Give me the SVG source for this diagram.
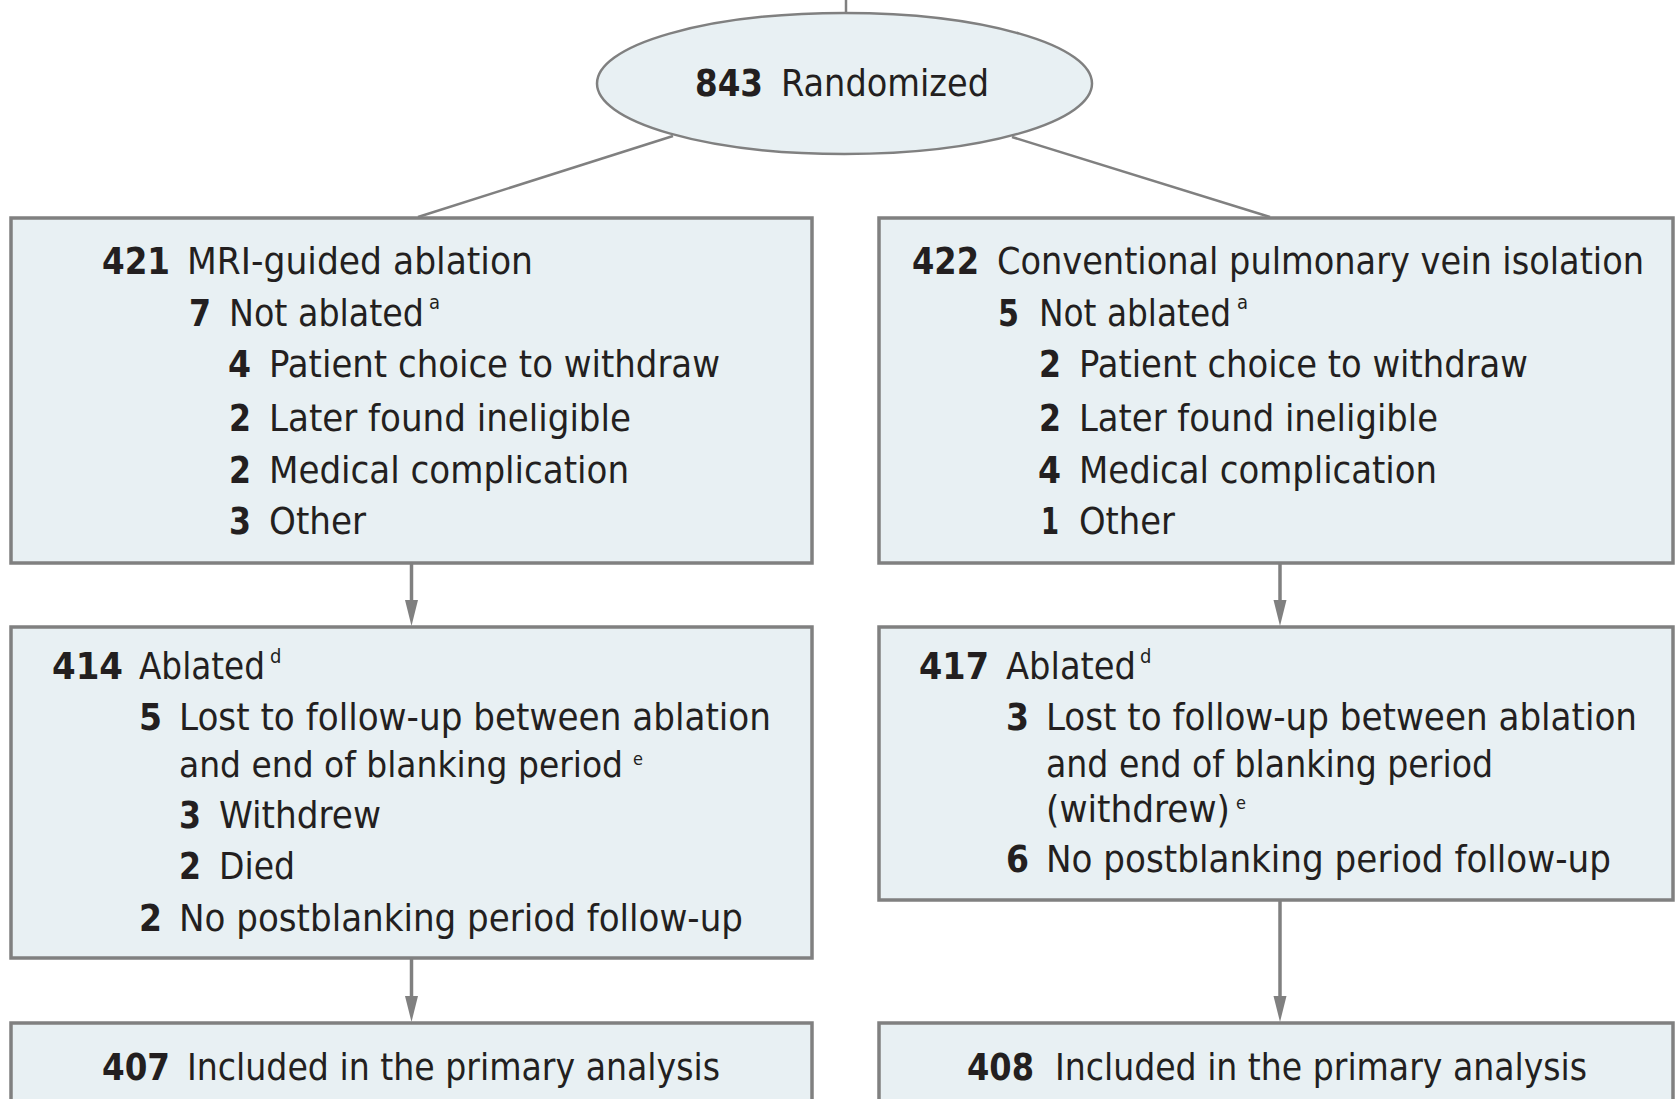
<svg xmlns="http://www.w3.org/2000/svg" width="1675" height="1099" viewBox="0 0 1675 1099">
<defs>
<style>
.box{fill:#e8f0f3;stroke:#808080;stroke-width:3.5}
.t{font-family:"Liberation Sans Narrow","DejaVu Sans Condensed","Liberation Sans",sans-serif;font-size:38px;fill:#231f20}
.n{font-weight:bold}
.s{font-size:20px}
.ss{font-size:18px}
.ln{stroke:#808080;stroke-width:2.5;fill:none}
.cn{stroke:#808080;stroke-width:3.5;fill:none}
.hd{fill:#808080}
</style>
</defs>
<g id="connectors">
<line class="ln" x1="846" y1="0" x2="846" y2="13"/>
<line class="ln" x1="673" y1="136" x2="418" y2="217"/>
<line class="ln" x1="1012" y1="137" x2="1270" y2="217"/>
<line class="cn" x1="411.5" y1="563" x2="411.5" y2="604"/>
<path class="hd" d="M405,600 L418,600 L411.5,626 Z"/>
<line class="cn" x1="411.5" y1="959" x2="411.5" y2="1000"/>
<path class="hd" d="M405,996 L418,996 L411.5,1022 Z"/>
<line class="cn" x1="1280" y1="563" x2="1280" y2="604"/>
<path class="hd" d="M1273.5,600 L1286.5,600 L1280,626 Z"/>
<line class="cn" x1="1280" y1="900" x2="1280" y2="1000"/>
<path class="hd" d="M1273.5,996 L1286.5,996 L1280,1022 Z"/>
</g>
<g id="randomized">
<ellipse cx="844.5" cy="83.5" rx="247.5" ry="70.5" fill="#e8f0f3" stroke="#808080" stroke-width="2.5"/>
<text class="t n" x="695" y="96" textLength="68" lengthAdjust="spacingAndGlyphs">843</text>
<text class="t" x="781" y="96" textLength="208" lengthAdjust="spacingAndGlyphs">Randomized</text>
</g>
<g id="mri-arm">
<rect class="box" x="11" y="218" width="801" height="345"/>
<text class="t n" x="102" y="274" textLength="68" lengthAdjust="spacingAndGlyphs">421</text>
<text class="t" x="187" y="274" textLength="346" lengthAdjust="spacingAndGlyphs">MRI-guided ablation</text>
<text class="t n" x="189" y="326" textLength="22" lengthAdjust="spacingAndGlyphs">7</text>
<text class="t" x="229" y="326"><tspan textLength="195" lengthAdjust="spacingAndGlyphs">Not ablated</tspan><tspan class="s" x="429" y="309">a</tspan></text>
<text class="t n" x="228" y="377" textLength="23" lengthAdjust="spacingAndGlyphs">4</text>
<text class="t" x="269" y="377" textLength="451" lengthAdjust="spacingAndGlyphs">Patient choice to withdraw</text>
<text class="t n" x="229" y="431" textLength="22" lengthAdjust="spacingAndGlyphs">2</text>
<text class="t" x="269" y="431" textLength="362" lengthAdjust="spacingAndGlyphs">Later found ineligible</text>
<text class="t n" x="229" y="483" textLength="22" lengthAdjust="spacingAndGlyphs">2</text>
<text class="t" x="269" y="483" textLength="360" lengthAdjust="spacingAndGlyphs">Medical complication</text>
<text class="t n" x="229" y="534" textLength="22" lengthAdjust="spacingAndGlyphs">3</text>
<text class="t" x="269" y="534" textLength="97" lengthAdjust="spacingAndGlyphs">Other</text>
</g>
<g id="pvi-arm">
<rect class="box" x="879" y="218" width="794" height="345"/>
<text class="t n" x="912" y="274" textLength="67" lengthAdjust="spacingAndGlyphs">422</text>
<text class="t" x="997" y="274" textLength="647" lengthAdjust="spacingAndGlyphs">Conventional pulmonary vein isolation</text>
<text class="t n" x="998" y="326" textLength="21" lengthAdjust="spacingAndGlyphs">5</text>
<text class="t" x="1039" y="326"><tspan textLength="192" lengthAdjust="spacingAndGlyphs">Not ablated</tspan><tspan class="s" x="1237" y="309">a</tspan></text>
<text class="t n" x="1039" y="377" textLength="22" lengthAdjust="spacingAndGlyphs">2</text>
<text class="t" x="1079" y="377" textLength="449" lengthAdjust="spacingAndGlyphs">Patient choice to withdraw</text>
<text class="t n" x="1039" y="431" textLength="22" lengthAdjust="spacingAndGlyphs">2</text>
<text class="t" x="1079" y="431" textLength="359" lengthAdjust="spacingAndGlyphs">Later found ineligible</text>
<text class="t n" x="1038" y="483" textLength="23" lengthAdjust="spacingAndGlyphs">4</text>
<text class="t" x="1079" y="483" textLength="358" lengthAdjust="spacingAndGlyphs">Medical complication</text>
<text class="t n" x="1041" y="534" textLength="18" lengthAdjust="spacingAndGlyphs">1</text>
<text class="t" x="1079" y="534" textLength="96" lengthAdjust="spacingAndGlyphs">Other</text>
</g>
<g id="mri-ablated">
<rect class="box" x="11" y="627" width="801" height="331"/>
<text class="t n" x="52" y="679" textLength="71" lengthAdjust="spacingAndGlyphs">414</text>
<text class="t" x="139" y="679"><tspan textLength="126" lengthAdjust="spacingAndGlyphs">Ablated</tspan><tspan class="s" x="270" y="663">d</tspan></text>
<text class="t n" x="139" y="730" textLength="23" lengthAdjust="spacingAndGlyphs">5</text>
<text class="t" x="179" y="730" textLength="592" lengthAdjust="spacingAndGlyphs">Lost to follow-up between ablation</text>
<text class="t" x="179" y="777" style="font-size:36px"><tspan textLength="444" lengthAdjust="spacingAndGlyphs">and end of blanking period</tspan><tspan class="ss" x="633" y="765">e</tspan></text>
<text class="t n" x="179" y="828" textLength="22" lengthAdjust="spacingAndGlyphs">3</text>
<text class="t" x="219" y="828" textLength="162" lengthAdjust="spacingAndGlyphs">Withdrew</text>
<text class="t n" x="179" y="879" textLength="22" lengthAdjust="spacingAndGlyphs">2</text>
<text class="t" x="219" y="879" textLength="76" lengthAdjust="spacingAndGlyphs">Died</text>
<text class="t n" x="139" y="931" textLength="23" lengthAdjust="spacingAndGlyphs">2</text>
<text class="t" x="179" y="931" textLength="564" lengthAdjust="spacingAndGlyphs">No postblanking period follow-up</text>
</g>
<g id="pvi-ablated">
<rect class="box" x="879" y="627" width="794" height="273"/>
<text class="t n" x="919" y="679" textLength="70" lengthAdjust="spacingAndGlyphs">417</text>
<text class="t" x="1006" y="679"><tspan textLength="130" lengthAdjust="spacingAndGlyphs">Ablated</tspan><tspan class="s" x="1140" y="663">d</tspan></text>
<text class="t n" x="1006" y="730" textLength="23" lengthAdjust="spacingAndGlyphs">3</text>
<text class="t" x="1046" y="730" textLength="591" lengthAdjust="spacingAndGlyphs">Lost to follow-up between ablation</text>
<text class="t" x="1046" y="777" textLength="447" lengthAdjust="spacingAndGlyphs">and end of blanking period</text>
<text class="t" x="1046" y="822"><tspan textLength="184" lengthAdjust="spacingAndGlyphs">(withdrew)</tspan><tspan class="ss" x="1236" y="809">e</tspan></text>
<text class="t n" x="1006" y="872" textLength="23" lengthAdjust="spacingAndGlyphs">6</text>
<text class="t" x="1046" y="872" textLength="565" lengthAdjust="spacingAndGlyphs">No postblanking period follow-up</text>
</g>
<g id="mri-analysis">
<rect class="box" x="11" y="1023" width="801" height="100"/>
<text class="t n" x="102" y="1080" textLength="68" lengthAdjust="spacingAndGlyphs">407</text>
<text class="t" x="187" y="1080" textLength="533" lengthAdjust="spacingAndGlyphs">Included in the primary analysis</text>
</g>
<g id="pvi-analysis">
<rect class="box" x="879" y="1023" width="794" height="100"/>
<text class="t n" x="967" y="1080" textLength="67" lengthAdjust="spacingAndGlyphs">408</text>
<text class="t" x="1055" y="1080" textLength="532" lengthAdjust="spacingAndGlyphs">Included in the primary analysis</text>
</g>
</svg>
